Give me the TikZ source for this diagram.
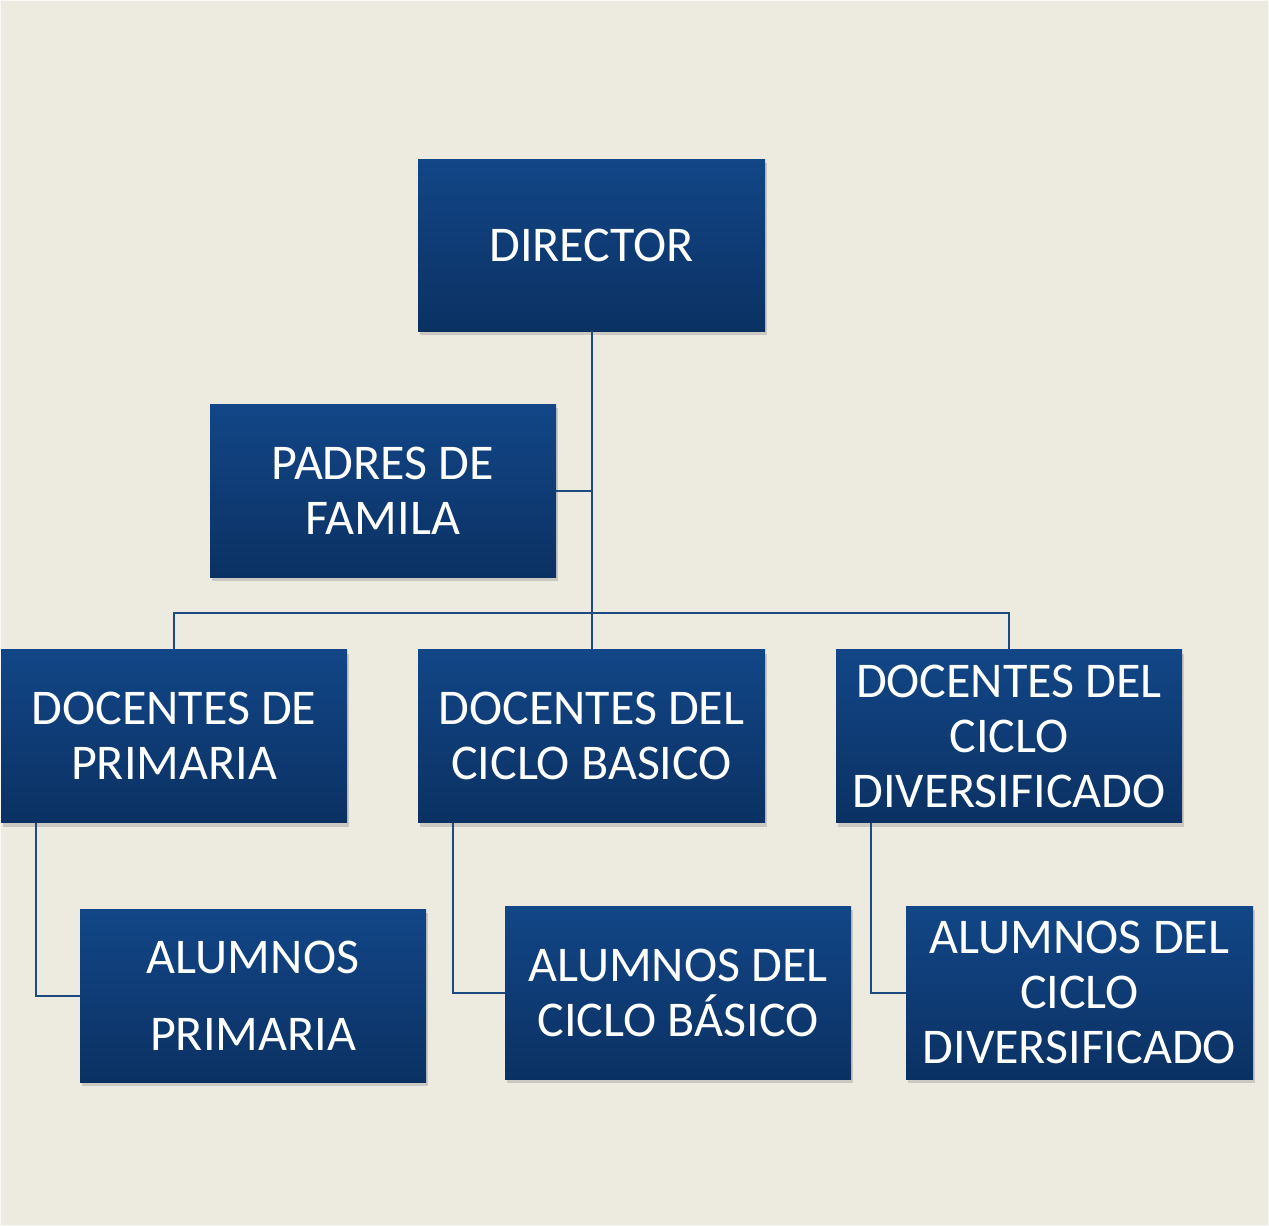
\documentclass[tikz,border=0pt]{standalone}
\usepackage{fontspec}
\setmainfont{Carlito}
\usetikzlibrary{shadows}
\definecolor{bgc}{HTML}{EDEAE0}
\definecolor{boxtop}{HTML}{124687}
\definecolor{boxbot}{HTML}{0B3163}
\definecolor{linec}{HTML}{1E4A7F}
\tikzset{
  orgbox/.style={rectangle, minimum width=346pt, minimum height=173pt, inner sep=0pt,
    top color=boxtop, bottom color=boxbot, text=white, align=center,
    font=\fontsize{50}{55}\selectfont,
    drop shadow={shadow xshift=2pt, shadow yshift=-4pt, opacity=0.25, fill=black!60}},
  conn/.style={draw=linec, line width=2pt}
}
\begin{document}
\begin{tikzpicture}[x=1pt,y=-1pt]
\fill[bgc] (0,0) rectangle (1269,1226);
\draw[white!60!bgc, line width=1pt] (0.5,0.5) rectangle (1268.5,1225.5);
\useasboundingbox (0,0) rectangle (1269,1226);
\node[orgbox, minimum width=347pt, minimum height=172pt] (dir) at (591.5,245) {DIRECTOR};
\node[orgbox] (pad) at (383,490.5) {PADRES DE\\FAMILA};
\node[orgbox] (dp) at (174,736) {DOCENTES DE\\PRIMARIA};
\node[orgbox, minimum width=347pt] (db) at (591.5,736) {DOCENTES DEL\\CICLO BASICO};
\node[orgbox] (dd) at (1009,736) {DOCENTES DEL\\CICLO\\DIVERSIFICADO};
\node[orgbox, font=\fontsize{50}{77}\selectfont] (ap) at (253,995.5) {ALUMNOS\\PRIMARIA};
\node[orgbox] (ab) at (678,992.5) {ALUMNOS DEL\\CICLO BÁSICO};
\node[orgbox, minimum width=347pt] (ad) at (1079.5,992.5) {ALUMNOS DEL\\CICLO\\DIVERSIFICADO};
\draw[conn] (dir.south) -- (db.north);
\draw[conn] (pad.east) -- (pad.east -| dir.south);
\draw[conn] (dp.north) -- ++(0,-36) -| (dd.north);
\draw[conn] ([xshift=35pt]dp.south west) |- (ap.west);
\draw[conn] ([xshift=35pt]db.south west) |- (ab.west);
\draw[conn] ([xshift=35pt]dd.south west) |- (ad.west);
\end{tikzpicture}
\end{document}
